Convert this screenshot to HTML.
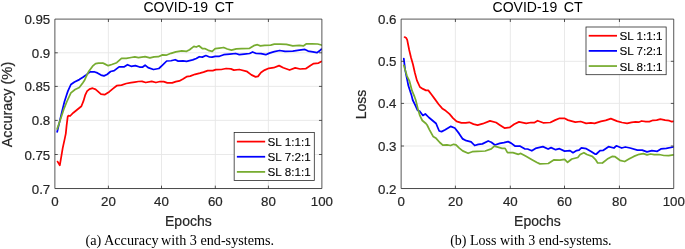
<!DOCTYPE html>
<html><head><meta charset="utf-8"><style>
html,body{margin:0;padding:0;background:#fff;width:685px;height:249px;overflow:hidden}
svg{display:block;will-change:transform}
text{font-family:"Liberation Sans",sans-serif;fill:#262626;stroke:#262626;stroke-width:0.2px}
.tk{font-size:13.3px}
.tt{font-size:14.7px;fill:#000;stroke:none}
.xl{font-size:14px}
.lg{font-size:11.7px;fill:#000;stroke:#000;stroke-width:0.1px}
.cap{font-family:"Liberation Serif",serif;font-size:14.2px;fill:#000;stroke:none}
.cb{font-size:14px}
</style></head><body>
<svg width="685" height="249" viewBox="0 0 685 249">
<defs><clipPath id="cl"><rect x="54.88" y="19.1" width="267.00" height="169.44"/></clipPath>
<clipPath id="cr"><rect x="401.14" y="19.1" width="272.59" height="169.44"/></clipPath></defs>
<line x1="108.4" y1="19.1" x2="108.4" y2="188.54" stroke="#e6e6e6" stroke-width="0.9"/>
<line x1="161.5" y1="19.1" x2="161.5" y2="188.54" stroke="#e6e6e6" stroke-width="0.9"/>
<line x1="215.3" y1="19.1" x2="215.3" y2="188.54" stroke="#e6e6e6" stroke-width="0.9"/>
<line x1="268.4" y1="19.1" x2="268.4" y2="188.54" stroke="#e6e6e6" stroke-width="0.9"/>
<line x1="54.88" y1="154.5" x2="321.88" y2="154.5" stroke="#e6e6e6" stroke-width="0.9"/>
<line x1="54.88" y1="120.4" x2="321.88" y2="120.4" stroke="#e6e6e6" stroke-width="0.9"/>
<line x1="54.88" y1="86.4" x2="321.88" y2="86.4" stroke="#e6e6e6" stroke-width="0.9"/>
<line x1="54.88" y1="52.8" x2="321.88" y2="52.8" stroke="#e6e6e6" stroke-width="0.9"/>
<line x1="455.4" y1="19.1" x2="455.4" y2="188.54" stroke="#e6e6e6" stroke-width="0.9"/>
<line x1="510.3" y1="19.1" x2="510.3" y2="188.54" stroke="#e6e6e6" stroke-width="0.9"/>
<line x1="564.5" y1="19.1" x2="564.5" y2="188.54" stroke="#e6e6e6" stroke-width="0.9"/>
<line x1="619.45" y1="19.1" x2="619.45" y2="188.54" stroke="#e6e6e6" stroke-width="0.9"/>
<line x1="401.14" y1="146.0" x2="673.73" y2="146.0" stroke="#e6e6e6" stroke-width="0.9"/>
<line x1="401.14" y1="103.4" x2="673.73" y2="103.4" stroke="#e6e6e6" stroke-width="0.9"/>
<line x1="401.14" y1="61.3" x2="673.73" y2="61.3" stroke="#e6e6e6" stroke-width="0.9"/>
<g clip-path="url(#cl)" fill="none" stroke-width="1.75" stroke-linejoin="round" stroke-linecap="round">
<path d="M57.60,161.60 L59.80,165.30 L61.20,157.10 L62.70,148.10 L64.50,139.90 L65.80,133.60 L66.60,125.60 L67.70,116.80 L68.50,115.60 L70.10,116.00 L73.40,112.70 L77.40,109.50 L81.40,106.30 L83.50,100.90 L85.30,94.80 L87.10,91.20 L89.50,89.10 L92.60,88.20 L95.60,89.40 L101.00,94.10 L104.60,94.70 L109.40,91.70 L113.00,88.70 L116.70,85.70 L121.50,85.10 L126.30,83.50 L131.10,82.70 L134.80,82.10 L138.40,81.50 L142.00,81.30 L145.70,82.50 L151.70,81.30 L155.90,82.50 L160.10,81.50 L163.70,81.70 L167.30,82.95 L172.20,82.95 L175.80,81.70 L179.40,80.90 L183.00,78.90 L186.60,76.70 L190.20,76.10 L195.10,74.30 L199.90,73.10 L203.50,72.10 L207.70,70.70 L212.80,70.70 L215.80,69.70 L221.30,69.50 L226.10,68.50 L230.90,68.90 L233.90,70.10 L239.30,69.50 L246.60,71.30 L251.40,74.90 L255.60,76.90 L258.00,76.40 L261.00,72.50 L264.60,70.10 L268.80,68.30 L273.70,67.70 L279.10,65.60 L283.30,67.70 L289.60,70.00 L295.20,67.90 L300.10,69.00 L305.70,68.70 L310.50,65.50 L313.70,63.60 L318.50,63.10 L321.40,61.50" stroke="#ff0000"/>
<path d="M57.20,131.80 L59.60,121.60 L62.10,111.10 L64.50,101.50 L66.60,95.00 L67.90,91.10 L70.90,84.50 L74.50,82.00 L79.30,79.60 L82.90,77.30 L86.50,74.65 L90.10,71.85 L94.00,71.75 L97.40,72.95 L101.00,75.10 L104.00,75.90 L107.00,74.50 L110.60,71.50 L114.20,70.65 L119.10,66.90 L123.90,66.90 L127.50,64.70 L131.10,66.30 L135.40,65.60 L139.60,67.00 L142.70,67.00 L145.10,65.20 L148.10,67.70 L153.50,69.50 L158.90,68.50 L162.50,65.20 L166.70,61.00 L171.00,60.75 L175.20,59.75 L178.20,61.10 L183.00,60.80 L186.60,61.30 L192.70,59.90 L196.30,58.55 L199.30,56.75 L202.30,57.10 L205.90,55.55 L209.50,57.00 L212.00,57.10 L215.20,56.30 L219.40,56.30 L223.70,54.70 L229.70,54.10 L235.70,53.50 L239.30,54.70 L244.10,54.10 L249.60,53.50 L252.60,52.00 L256.20,53.50 L261.00,53.70 L265.80,54.70 L269.40,53.10 L274.30,51.70 L279.70,50.50 L285.10,51.40 L292.80,51.10 L299.30,50.20 L304.90,49.40 L308.10,51.10 L312.90,51.90 L316.90,52.70 L319.30,51.10 L321.40,49.10" stroke="#0000ff"/>
<path d="M57.20,128.90 L60.50,119.20 L63.70,109.50 L66.90,101.50 L70.90,92.90 L75.10,89.50 L79.30,87.50 L82.90,82.70 L84.70,80.00 L85.90,77.20 L88.90,71.20 L92.60,66.20 L95.60,63.60 L98.60,63.10 L102.80,63.00 L104.60,63.90 L108.20,65.70 L111.80,64.50 L116.70,62.70 L121.50,58.40 L126.30,58.40 L131.10,57.50 L134.80,56.90 L138.40,57.65 L145.10,56.70 L149.90,57.90 L154.10,56.90 L158.30,56.70 L162.50,54.90 L166.10,55.20 L171.00,53.30 L175.80,51.90 L181.80,50.90 L186.60,51.30 L189.60,49.70 L193.90,46.40 L196.30,47.00 L198.90,45.80 L202.30,48.50 L204.70,48.50 L208.30,50.30 L212.20,51.40 L215.20,48.70 L219.40,48.10 L223.70,47.50 L227.30,49.00 L231.50,50.20 L236.30,48.90 L241.70,48.70 L249.60,48.30 L253.80,45.70 L257.40,44.70 L260.40,45.90 L264.60,45.30 L270.70,45.10 L274.30,44.20 L280.30,44.20 L286.40,44.30 L292.80,45.90 L299.30,45.40 L303.30,45.90 L306.50,43.80 L312.10,43.80 L317.70,44.00 L321.40,45.00" stroke="#77ac30"/>
</g>
<g clip-path="url(#cr)" fill="none" stroke-width="1.75" stroke-linejoin="round" stroke-linecap="round">
<path d="M404.60,37.10 L406.30,38.10 L407.20,39.90 L409.20,50.00 L411.00,57.50 L413.00,64.50 L414.80,72.50 L416.90,80.40 L419.90,87.00 L422.90,88.90 L425.90,90.40 L428.30,90.40 L431.30,94.30 L434.90,99.10 L438.60,104.20 L442.20,108.40 L445.80,110.80 L449.40,113.90 L453.00,118.10 L456.60,121.40 L461.40,122.90 L465.70,122.90 L469.30,122.30 L473.50,124.10 L477.60,125.10 L482.80,123.70 L490.00,120.90 L496.10,122.50 L499.70,124.90 L504.50,128.10 L509.90,127.30 L514.10,124.30 L519.00,121.90 L526.20,123.30 L531.00,122.50 L534.60,122.50 L537.60,120.70 L543.10,122.80 L550.30,122.50 L555.10,120.10 L559.60,118.30 L564.40,118.30 L568.00,120.10 L575.30,122.10 L580.70,121.50 L586.10,123.40 L590.90,122.80 L594.60,123.30 L600.90,121.30 L605.70,120.40 L610.85,118.60 L617.00,121.10 L622.00,122.50 L627.10,123.40 L631.60,122.30 L635.50,121.90 L638.60,122.20 L641.60,121.00 L645.80,121.60 L649.40,121.60 L653.00,120.30 L656.70,120.10 L660.30,119.10 L665.10,120.10 L669.30,120.70 L671.70,121.60 L673.30,121.30" stroke="#ff0000"/>
<path d="M403.80,58.60 L404.30,62.80 L405.20,70.10 L406.40,76.10 L407.40,80.90 L408.40,85.80 L411.40,94.90 L412.70,100.00 L415.10,104.80 L417.50,110.20 L419.90,111.40 L422.90,115.40 L425.30,113.90 L428.90,117.50 L432.50,120.50 L436.10,123.50 L437.50,127.00 L439.20,131.00 L441.60,131.60 L445.20,129.80 L450.60,126.40 L454.80,128.00 L459.00,133.40 L462.70,138.90 L466.30,140.70 L471.10,141.90 L474.70,145.50 L478.30,144.30 L482.40,143.90 L488.20,141.00 L491.30,142.20 L494.90,145.00 L499.70,143.40 L503.90,142.60 L508.10,141.60 L511.10,143.10 L515.30,146.20 L519.80,146.00 L524.60,148.80 L527.60,149.00 L531.80,150.80 L535.50,148.40 L542.90,146.60 L548.10,149.00 L551.10,147.60 L555.60,149.70 L559.50,148.70 L564.60,151.10 L570.00,150.60 L573.00,152.70 L576.60,150.60 L579.00,150.20 L581.40,147.80 L586.30,148.70 L591.10,151.40 L595.00,154.00 L596.40,154.00 L600.00,150.70 L603.00,150.40 L608.50,146.70 L613.90,148.00 L616.30,145.80 L621.70,148.00 L625.30,147.00 L630.10,148.00 L637.40,150.10 L642.20,150.10 L647.00,151.90 L651.80,150.70 L657.30,151.30 L660.90,148.90 L666.30,148.30 L673.30,147.00" stroke="#0000ff"/>
<path d="M403.80,65.30 L405.20,70.10 L407.00,76.10 L409.50,81.20 L412.00,90.70 L414.50,96.70 L415.70,100.00 L418.10,109.60 L419.90,115.70 L422.30,120.50 L425.90,123.50 L427.10,125.00 L429.50,129.80 L433.10,136.40 L436.10,138.30 L439.80,142.50 L442.80,145.20 L447.00,144.90 L450.60,145.50 L453.60,144.30 L456.00,144.90 L459.00,147.90 L462.70,150.90 L468.10,153.30 L472.30,151.70 L477.10,151.30 L485.20,151.00 L491.30,148.90 L494.30,146.20 L497.90,147.10 L502.10,148.30 L505.10,148.30 L507.50,152.70 L512.90,152.70 L518.40,154.30 L520.80,153.40 L526.00,156.30 L532.00,159.70 L537.00,162.50 L539.90,163.90 L548.30,163.50 L553.70,159.90 L559.80,160.20 L564.60,159.30 L567.60,162.30 L571.80,159.00 L577.80,157.50 L580.20,154.50 L583.90,152.70 L586.90,154.50 L592.30,156.30 L595.30,159.30 L597.70,162.90 L602.40,163.00 L607.30,159.10 L612.10,156.40 L615.10,156.70 L619.90,160.30 L624.70,161.50 L628.90,159.10 L633.80,156.40 L639.20,154.30 L643.40,153.70 L647.00,154.90 L650.60,154.00 L654.20,154.60 L659.10,154.50 L663.90,155.50 L668.70,155.70 L673.30,154.90" stroke="#77ac30"/>
</g>
<line x1="108.4" y1="188.54" x2="108.4" y2="185.64" stroke="#262626" stroke-width="0.78"/>
<line x1="108.4" y1="19.1" x2="108.4" y2="22.0" stroke="#262626" stroke-width="0.78"/>
<line x1="161.5" y1="188.54" x2="161.5" y2="185.64" stroke="#262626" stroke-width="0.78"/>
<line x1="161.5" y1="19.1" x2="161.5" y2="22.0" stroke="#262626" stroke-width="0.78"/>
<line x1="215.3" y1="188.54" x2="215.3" y2="185.64" stroke="#262626" stroke-width="0.78"/>
<line x1="215.3" y1="19.1" x2="215.3" y2="22.0" stroke="#262626" stroke-width="0.78"/>
<line x1="268.4" y1="188.54" x2="268.4" y2="185.64" stroke="#262626" stroke-width="0.78"/>
<line x1="268.4" y1="19.1" x2="268.4" y2="22.0" stroke="#262626" stroke-width="0.78"/>
<line x1="54.88" y1="154.5" x2="57.78" y2="154.5" stroke="#262626" stroke-width="0.78"/>
<line x1="321.88" y1="154.5" x2="318.98" y2="154.5" stroke="#262626" stroke-width="0.78"/>
<line x1="54.88" y1="120.4" x2="57.78" y2="120.4" stroke="#262626" stroke-width="0.78"/>
<line x1="321.88" y1="120.4" x2="318.98" y2="120.4" stroke="#262626" stroke-width="0.78"/>
<line x1="54.88" y1="86.4" x2="57.78" y2="86.4" stroke="#262626" stroke-width="0.78"/>
<line x1="321.88" y1="86.4" x2="318.98" y2="86.4" stroke="#262626" stroke-width="0.78"/>
<line x1="54.88" y1="52.8" x2="57.78" y2="52.8" stroke="#262626" stroke-width="0.78"/>
<line x1="321.88" y1="52.8" x2="318.98" y2="52.8" stroke="#262626" stroke-width="0.78"/>
<line x1="54.88" y1="19.1" x2="321.88" y2="19.1" stroke="#262626" stroke-width="0.78"/>
<line x1="54.88" y1="188.54" x2="321.88" y2="188.54" stroke="#262626" stroke-width="0.85"/>
<line x1="54.88" y1="19.1" x2="54.88" y2="188.54" stroke="#262626" stroke-width="0.78"/>
<line x1="321.88" y1="19.1" x2="321.88" y2="188.54" stroke="#262626" stroke-width="0.78"/>
<line x1="455.4" y1="188.54" x2="455.4" y2="185.64" stroke="#262626" stroke-width="0.78"/>
<line x1="455.4" y1="19.1" x2="455.4" y2="22.0" stroke="#262626" stroke-width="0.78"/>
<line x1="510.3" y1="188.54" x2="510.3" y2="185.64" stroke="#262626" stroke-width="0.78"/>
<line x1="510.3" y1="19.1" x2="510.3" y2="22.0" stroke="#262626" stroke-width="0.78"/>
<line x1="564.5" y1="188.54" x2="564.5" y2="185.64" stroke="#262626" stroke-width="0.78"/>
<line x1="564.5" y1="19.1" x2="564.5" y2="22.0" stroke="#262626" stroke-width="0.78"/>
<line x1="619.45" y1="188.54" x2="619.45" y2="185.64" stroke="#262626" stroke-width="0.78"/>
<line x1="619.45" y1="19.1" x2="619.45" y2="22.0" stroke="#262626" stroke-width="0.78"/>
<line x1="401.14" y1="146.0" x2="404.03999999999996" y2="146.0" stroke="#262626" stroke-width="0.78"/>
<line x1="673.73" y1="146.0" x2="670.83" y2="146.0" stroke="#262626" stroke-width="0.78"/>
<line x1="401.14" y1="103.4" x2="404.03999999999996" y2="103.4" stroke="#262626" stroke-width="0.78"/>
<line x1="673.73" y1="103.4" x2="670.83" y2="103.4" stroke="#262626" stroke-width="0.78"/>
<line x1="401.14" y1="61.3" x2="404.03999999999996" y2="61.3" stroke="#262626" stroke-width="0.78"/>
<line x1="673.73" y1="61.3" x2="670.83" y2="61.3" stroke="#262626" stroke-width="0.78"/>
<line x1="401.14" y1="19.1" x2="673.73" y2="19.1" stroke="#262626" stroke-width="0.78"/>
<line x1="401.14" y1="188.54" x2="673.73" y2="188.54" stroke="#262626" stroke-width="0.85"/>
<line x1="401.14" y1="19.1" x2="401.14" y2="188.54" stroke="#262626" stroke-width="0.78"/>
<line x1="673.73" y1="19.1" x2="673.73" y2="188.54" stroke="#262626" stroke-width="0.78"/>
<rect x="234.16" y="132.4" width="80.14" height="48.10" fill="#fff" stroke="#262626" stroke-width="0.78"/>
<line x1="236.85999999999999" y1="141.60" x2="265.15999999999997" y2="141.60" stroke="#ff0000" stroke-width="1.75"/>
<text x="267.56" y="146.10" class="lg">SL 1:1:1</text>
<line x1="236.85999999999999" y1="156.75" x2="265.15999999999997" y2="156.75" stroke="#0000ff" stroke-width="1.75"/>
<text x="267.56" y="161.25" class="lg">SL 7:2:1</text>
<line x1="236.85999999999999" y1="171.90" x2="265.15999999999997" y2="171.90" stroke="#77ac30" stroke-width="1.75"/>
<text x="267.56" y="176.40" class="lg">SL 8:1:1</text>
<rect x="586.0" y="27.0" width="80.15" height="47.70" fill="#fff" stroke="#262626" stroke-width="0.78"/>
<line x1="588.7" y1="35.75" x2="617.0" y2="35.75" stroke="#ff0000" stroke-width="1.75"/>
<text x="619.40" y="40.25" class="lg">SL 1:1:1</text>
<line x1="588.7" y1="50.90" x2="617.0" y2="50.90" stroke="#0000ff" stroke-width="1.75"/>
<text x="619.40" y="55.40" class="lg">SL 7:2:1</text>
<line x1="588.7" y1="66.05" x2="617.0" y2="66.05" stroke="#77ac30" stroke-width="1.75"/>
<text x="619.40" y="70.55" class="lg">SL 8:1:1</text>
<text x="54.88" y="206.4" class="tk" text-anchor="middle">0</text>
<text x="108.40" y="206.4" class="tk" text-anchor="middle">20</text>
<text x="161.50" y="206.4" class="tk" text-anchor="middle">40</text>
<text x="215.30" y="206.4" class="tk" text-anchor="middle">60</text>
<text x="268.40" y="206.4" class="tk" text-anchor="middle">80</text>
<text x="321.88" y="206.4" class="tk" text-anchor="middle">100</text>
<text x="50.28" y="193.54" class="tk" text-anchor="end">0.7</text>
<text x="50.28" y="159.50" class="tk" text-anchor="end">0.75</text>
<text x="50.28" y="125.40" class="tk" text-anchor="end">0.8</text>
<text x="50.28" y="91.40" class="tk" text-anchor="end">0.85</text>
<text x="50.28" y="57.80" class="tk" text-anchor="end">0.9</text>
<text x="50.28" y="24.10" class="tk" text-anchor="end">0.95</text>
<text x="401.14" y="206.4" class="tk" text-anchor="middle">0</text>
<text x="455.40" y="206.4" class="tk" text-anchor="middle">20</text>
<text x="510.30" y="206.4" class="tk" text-anchor="middle">40</text>
<text x="564.50" y="206.4" class="tk" text-anchor="middle">60</text>
<text x="619.45" y="206.4" class="tk" text-anchor="middle">80</text>
<text x="673.73" y="206.4" class="tk" text-anchor="middle">100</text>
<text x="396.54" y="193.54" class="tk" text-anchor="end">0.2</text>
<text x="396.54" y="151.00" class="tk" text-anchor="end">0.3</text>
<text x="396.54" y="108.40" class="tk" text-anchor="end">0.4</text>
<text x="396.54" y="66.30" class="tk" text-anchor="end">0.5</text>
<text x="396.54" y="24.10" class="tk" text-anchor="end">0.6</text>
<text x="143.48" y="12.45" class="tt" textLength="64.7" lengthAdjust="spacingAndGlyphs">COVID-19</text>
<text x="214.68" y="12.45" class="tt" textLength="19.0" lengthAdjust="spacingAndGlyphs">CT</text>
<text x="492.53" y="12.45" class="tt" textLength="64.7" lengthAdjust="spacingAndGlyphs">COVID-19</text>
<text x="563.73" y="12.45" class="tt" textLength="19.0" lengthAdjust="spacingAndGlyphs">CT</text>
<text x="188.38" y="225.8" class="xl" text-anchor="middle">Epochs</text>
<text x="537.43" y="225.8" class="xl" text-anchor="middle">Epochs</text>
<text transform="translate(12.4,147.2) rotate(-90)" class="xl" textLength="58.6" lengthAdjust="spacingAndGlyphs">Accuracy</text>
<text transform="translate(12.4,84.6) rotate(-90)" class="xl" textLength="23.0" lengthAdjust="spacingAndGlyphs">(%)</text>
<text transform="translate(365.6,104.5) rotate(-90)" class="xl" text-anchor="middle">Loss</text>
<text x="85.4" y="245" class="cap" textLength="73.2" lengthAdjust="spacingAndGlyphs">(a) Accuracy</text>
<text x="161" y="245" class="cap">with 3 end-systems.</text>
<text x="530.9" y="245" class="cap cb" text-anchor="middle">(b) Loss with 3 end-systems.</text>
</svg>
</body></html>
